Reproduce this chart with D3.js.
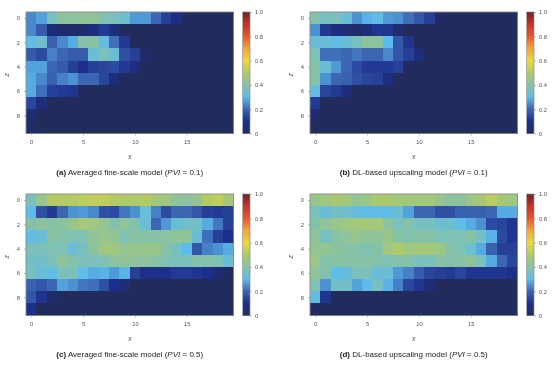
<!DOCTYPE html>
<html>
<head>
<meta charset="utf-8">
<script src="https://cdn.jsdelivr.net/npm/d3@7"></script>
<style>
  html, body { margin: 0; background: #fff; }
  svg { display: block; filter: blur(0.45px); }
  text { font-family: "Liberation Sans", Arial, sans-serif; }
</style>
</head>
<body>
<svg id="fig" width="554" height="366"></svg>
<script>
// values, one row per z
const fineLow = [
  [.24,.27,.36,.41,.41,.42,.42,.38,.37,.34,.26,.26,.2,.13,.08,0,0,0,0,0],
  [.24,.18,.06,.03,.03,.04,.07,.12,.07,0,0,0,0,0,0,0,0,0,0,0],
  [.31,.34,.19,.24,.28,.39,.40,.32,.21,.12,0,0,0,0,0,0,0,0,0,0],
  [.18,.15,.23,.2,.18,.18,.33,.37,.33,.16,.13,.03,0,0,0,0,0,0,0,0],
  [.27,.27,.2,.18,.13,.1,.13,.14,.15,.12,.07,0,0,0,0,0,0,0,0,0],
  [.28,.24,.19,.23,.25,.2,.2,.14,.06,0,0,0,0,0,0,0,0,0,0,0],
  [.28,.21,.13,.12,.11,.01,0,0,0,0,0,0,0,0,0,0,0,0,0,0],
  [.14,.06,0,0,0,0,0,0,0,0,0,0,0,0,0,0,0,0,0,0],
  [.05,0,0,0,0,0,0,0,0,0,0,0,0,0,0,0,0,0,0,0],
  [.03,0,0,0,0,0,0,0,0,0,0,0,0,0,0,0,0,0,0,0]
];
const dlLow = [
  [.39,.36,.37,.33,.25,.29,.31,.26,.25,.21,.17,.13,.01,0,0,0,0,0,0,0],
  [.25,.12,.08,.05,.03,.06,.11,.11,.04,0,0,0,0,0,0,0,0,0,0,0],
  [.33,.33,.31,.33,.36,.41,.41,.30,.17,.11,0,0,0,0,0,0,0,0,0,0],
  [.38,.21,.21,.2,.22,.2,.2,.24,.17,.13,.07,0,0,0,0,0,0,0,0,0],
  [.40,.33,.26,.2,.15,.12,.12,.12,.13,.01,0,0,0,0,0,0,0,0,0,0],
  [.40,.25,.2,.19,.16,.14,.13,.07,0,0,0,0,0,0,0,0,0,0,0,0],
  [.32,.14,.12,.07,0,0,0,0,0,0,0,0,0,0,0,0,0,0,0,0],
  [.12,0,0,0,0,0,0,0,0,0,0,0,0,0,0,0,0,0,0,0],
  [.04,0,0,0,0,0,0,0,0,0,0,0,0,0,0,0,0,0,0,0],
  [0,0,0,0,0,0,0,0,0,0,0,0,0,0,0,0,0,0,0,0]
];
const fineHigh = [
  [.37,.44,.51,.51,.51,.52,.53,.53,.51,.50,.50,.51,.48,.46,.42,.41,.43,.51,.53,.48],
  [.30,.16,.12,.2,.25,.26,.24,.16,.15,.22,.25,.33,.23,.15,.2,.2,.17,.13,.12,.13],
  [.39,.41,.4,.41,.44,.48,.46,.43,.39,.42,.39,.33,.2,.26,.33,.35,.35,.28,.22,.13],
  [.31,.33,.4,.39,.38,.38,.42,.44,.43,.38,.40,.40,.40,.41,.42,.42,.33,.21,.13,.10],
  [.37,.37,.38,.38,.33,.36,.41,.46,.46,.43,.44,.44,.44,.40,.36,.30,.17,.23,.25,.28],
  [.35,.35,.37,.42,.39,.37,.37,.38,.41,.42,.42,.41,.40,.38,.37,.37,.39,.39,.38,.33],
  [.36,.33,.31,.37,.37,.31,.28,.29,.26,.29,.13,.09,.09,.1,.12,.12,.11,.1,.05,.01],
  [.19,.17,.2,.27,.25,.22,.21,.16,.1,.05,0,0,0,0,0,0,0,0,0,0],
  [.17,.11,.04,0,0,0,0,0,0,0,0,0,0,0,0,0,0,0,0,0],
  [.1,0,0,0,0,0,0,0,0,0,0,0,0,0,0,0,0,0,0,0]
];
const dlHigh = [
  [.44,.46,.49,.47,.43,.45,.49,.49,.47,.47,.47,.47,.44,.41,.41,.45,.48,.52,.48,.46],
  [.37,.33,.35,.34,.32,.31,.31,.31,.33,.27,.2,.2,.16,.16,.19,.19,.19,.2,.28,.28],
  [.39,.42,.44,.46,.47,.48,.47,.41,.37,.39,.36,.36,.34,.34,.31,.28,.25,.15,.14,.11],
  [.42,.36,.40,.42,.44,.42,.42,.44,.40,.39,.40,.40,.38,.38,.38,.40,.36,.29,.15,.11],
  [.43,.43,.41,.40,.39,.38,.40,.46,.50,.46,.47,.47,.45,.40,.38,.34,.28,.19,.13,.13],
  [.45,.39,.40,.40,.40,.40,.39,.38,.39,.39,.37,.37,.40,.39,.40,.42,.37,.28,.2,.14],
  [.42,.39,.3,.32,.37,.37,.33,.33,.26,.23,.18,.14,.13,.12,.14,.11,.11,.11,.11,.09],
  [.38,.25,.35,.35,.27,.3,.36,.29,.23,.14,.11,.05,0,0,0,0,0,0,0,0],
  [.32,.11,0,0,0,0,0,0,0,0,0,0,0,0,0,0,0,0,0,0],
  [0,0,0,0,0,0,0,0,0,0,0,0,0,0,0,0,0,0,0,0]
];

const xTicks = [0, 5, 10, 15];
const zTicks = [0, 2, 4, 6, 8];
const barTicks = [0, 0.2, 0.4, 0.6, 0.8, 1];
const colorStops = ["#212b5c", "#1c2f8c", "#3c66b4", "#5cbcec", "#88c2a4", "#aeca68",
                    "#ecd83c", "#f2a63a", "#e6582c", "#c6322a", "#6c2424"];

const color = d3.scaleLinear()
    .domain(colorStops.map((d, i) => i / 10))
    .range(colorStops)
    .interpolate(d3.interpolateRgb);

const panels = [
  { grid: fineLow,  left: 26,  top: 12,  tag: "(a)", name: " Averaged fine-scale model (", pvi: " = 0.1)" },
  { grid: dlLow,    left: 310, top: 12,  tag: "(b)", name: " DL-based upscaling model (",  pvi: " = 0.1)" },
  { grid: fineHigh, left: 26,  top: 194, tag: "(c)", name: " Averaged fine-scale model (", pvi: " = 0.5)" },
  { grid: dlHigh,   left: 310, top: 194, tag: "(d)", name: " DL-based upscaling model (",  pvi: " = 0.5)" }
];

const plotW = 207.5, plotH = 121.5, barGap = 9, barW = 7.5;
const ink = "#555", frame = "#8a8a8a";
const svg = d3.select("#fig");

function styleAxis(g) {
    g.select(".domain").remove();
    g.selectAll(".tick line").attr("stroke", frame).attr("stroke-width", 0.6);
    g.selectAll(".tick text").attr("fill", ink).style("font-size", "5.8px");
}

panels.forEach(p => {
    const g = svg.append("g").attr("transform", `translate(${p.left},${p.top})`);
    const x = d3.scaleLinear().domain([-0.5, 19.5]).range([0, plotW]);
    const y = d3.scaleLinear().domain([-0.5, 9.5]).range([0, plotH]);

    const cells = p.grid.flatMap((row, z) => row.map((v, i) => ({ i, z, v })));
    g.selectAll("rect.cell")
        .data(cells)
        .join("rect")
        .attr("class", "cell")
        .attr("x", d => x(d.i - 0.5))
        .attr("y", d => y(d.z - 0.5))
        .attr("width", x(1) - x(0))
        .attr("height", y(1) - y(0))
        .attr("shape-rendering", "crispEdges")
        .attr("fill", d => color(d.v));

    g.append("rect")
        .attr("width", plotW).attr("height", plotH)
        .attr("fill", "none").attr("stroke", frame).attr("stroke-width", 0.9);

    g.append("g").attr("transform", `translate(0,${plotH})`)
        .call(d3.axisBottom(x).tickValues(xTicks).tickSize(2).tickPadding(4)).call(styleAxis);
    g.append("g")
        .call(d3.axisLeft(y).tickValues(zTicks).tickSize(2).tickPadding(4)).call(styleAxis);

    g.append("text").attr("x", plotW / 2).attr("y", plotH + 25)
        .attr("text-anchor", "middle").attr("fill", ink)
        .style("font-size", "7px").style("font-style", "italic").text("x");
    g.append("text").attr("transform", `translate(-17,${plotH / 2 + 2}) rotate(-90)`)
        .attr("text-anchor", "middle").attr("fill", ink)
        .style("font-size", "7px").style("font-style", "italic").text("z");

    // colour bar
    const bar = g.append("g").attr("transform", `translate(${plotW + barGap},0)`);
    const barScale = d3.scaleLinear().domain([0, 1]).range([plotH, 0]);
    const steps = d3.range(0, 1, 0.01);
    bar.selectAll("rect.step")
        .data(steps)
        .join("rect")
        .attr("class", "step")
        .attr("x", 0)
        .attr("y", d => barScale(d + 0.01))
        .attr("width", barW)
        .attr("height", plotH / steps.length)
        .attr("shape-rendering", "crispEdges")
        .attr("fill", d => color(d + 0.005));
    bar.append("rect").attr("width", barW).attr("height", plotH)
        .attr("fill", "none").attr("stroke", frame).attr("stroke-width", 0.7);
    bar.append("g").attr("transform", `translate(${barW},0)`)
        .call(d3.axisRight(barScale).tickValues(barTicks)
            .tickFormat(d => d === 0 ? "0" : d.toFixed(1)).tickSize(2).tickPadding(3))
        .call(styleAxis);

    // caption
    const cap = g.append("text").attr("x", plotW / 2).attr("y", plotH + 41)
        .attr("text-anchor", "middle").attr("fill", "#222").style("font-size", "8px");
    cap.append("tspan").style("font-weight", "bold").text(p.tag);
    cap.append("tspan").text(p.name);
    cap.append("tspan").style("font-style", "italic").text("PVI");
    cap.append("tspan").text(p.pvi);
});
</script>
</body>
</html>
